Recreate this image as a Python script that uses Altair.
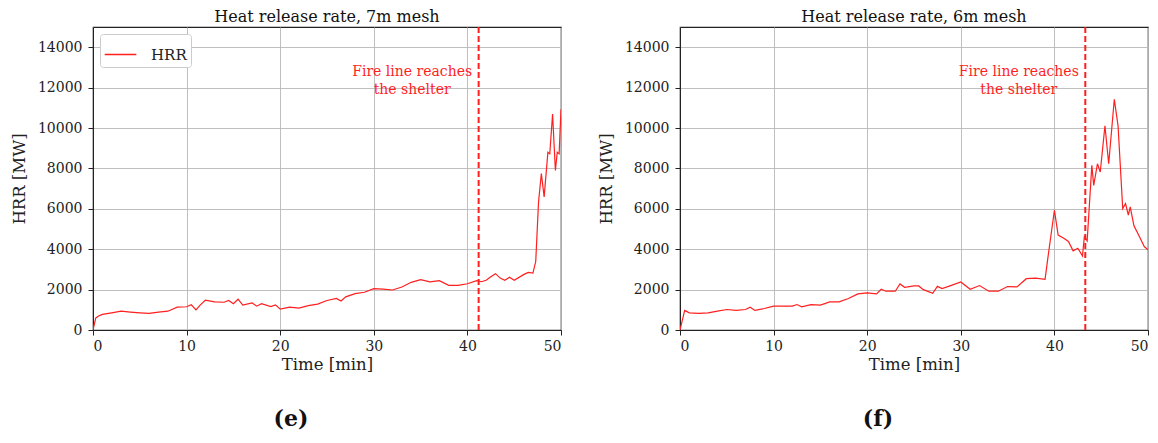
import altair as alt
import pandas as pd

# ---- data ----
t_e = [0, 0.3, 0.6, 1, 2, 3, 4, 5, 6, 7, 8, 9, 10, 10.5, 11, 11.5, 12, 13, 14, 14.5, 15, 15.5, 16, 17, 17.5,
       18, 19, 19.5, 20, 21, 22, 23, 24, 25, 26, 26.5, 27, 28, 29, 30, 31, 32, 33, 34, 35, 36, 37, 38, 39,
       40, 41, 41.5, 42, 42.5, 43, 43.5, 44, 44.5, 45, 46, 46.5, 47, 47.3, 47.6, 47.9, 48.2, 48.6, 48.8,
       49.1, 49.4, 49.6, 49.8, 50]
hrr_e = [0, 600, 690, 770, 850, 930, 885, 850, 820, 885, 930, 1130, 1150, 1250, 1000, 1260, 1475, 1390, 1375,
         1460, 1300, 1525, 1230, 1340, 1180, 1300, 1160, 1245, 1030, 1130, 1080, 1210, 1280, 1460, 1560, 1440,
         1640, 1800, 1870, 2050, 2020, 1980, 2130, 2360, 2490, 2380, 2440, 2210, 2210, 2290, 2440, 2390, 2460,
         2640, 2790, 2570, 2460, 2610, 2460, 2740, 2850, 2820, 3390, 6340, 7740, 6590, 8800, 8720, 10690, 7900,
         8800, 8720, 10930]

t_f = [0, 0.5, 1, 2, 3, 4, 5, 6, 7, 7.5, 8, 9, 10, 11, 12, 12.5, 13, 14, 15, 16, 17, 18, 19, 20, 21, 21.5, 22,
       23, 23.5, 24, 25, 25.5, 26, 27, 27.5, 28, 29, 30, 31, 32, 33, 34, 35, 36, 37, 38, 39, 39.3, 40, 40.4, 41,
       41.5, 42, 42.5, 43, 43.2, 43.5, 44, 44.2, 44.6, 44.9, 45.4, 45.8, 46.4, 46.8, 47.3, 47.6, 47.9, 48.1,
       48.5, 49, 49.6, 50]
hrr_f = [0, 970, 850, 820, 850, 930, 1015, 970, 1015, 1130, 970, 1065, 1180, 1180, 1180, 1260, 1150, 1260, 1230,
         1390, 1390, 1560, 1790, 1835, 1790, 2015, 1920, 1920, 2280, 2115, 2180, 2180, 2000, 1820, 2160, 2050,
         2210, 2380, 2015, 2200, 1920, 1920, 2150, 2130, 2540, 2570, 2510, 3560, 5930, 4700, 4540, 4380, 3920,
         4050, 3670, 4620, 4410, 8150, 7160, 8230, 7820, 10110, 8230, 11420, 10110, 6010, 6260, 5690, 6100,
         5160, 4700, 4130, 3970]

titles = ["Heat release rate, 7m mesh", "Heat release rate, 6m mesh"]
captions = ["(e)", "(f)"]
fire_line_t = [41.2, 43.3]
annot_lines = ["Fire line reaches", "the shelter"]
series_name = "HRR"

FONT = "DejaVu Serif"
RED = "#ff1f1f"
W, H = 468, 303


def panel(t, hrr, title, caption, tline):
    df = pd.DataFrame({"t": t, "hrr": hrr, "series": series_name})
    xs = alt.Scale(domain=[0, 50], nice=False)
    ys = alt.Scale(domain=[0, 15000], nice=False)
    line = alt.Chart(df).mark_line(strokeWidth=1.2, clip=True).encode(
        x=alt.X("t:Q", scale=xs, title="Time [min]",
                axis=alt.Axis(values=[0, 10, 20, 30, 40, 50], grid=True, format="d")),
        y=alt.Y("hrr:Q", scale=ys, title="HRR [MW]",
                axis=alt.Axis(values=list(range(0, 15000, 2000)), grid=True, format="d")),
        color=alt.Color("series:N", scale=alt.Scale(domain=[series_name], range=[RED]),
                        legend=alt.Legend(title=None, orient="top-left", symbolType="stroke",
                                          symbolSize=1000, symbolStrokeWidth=1.3,
                                          labelFont=FONT, labelFontSize=15, labelColor="#222",
                                          labelOffset=14,
                                          strokeColor="#cccccc", fillColor="white",
                                          padding=4, cornerRadius=3, offset=7)),
    )
    one = pd.DataFrame({"tline": [tline], "cap": [caption]})
    rule = alt.Chart(one).mark_rule(color=RED, strokeWidth=2, strokeDash=[6, 3]).encode(
        x=alt.X("tline:Q", scale=xs)
    )
    ann = pd.DataFrame({"txt": annot_lines, "tx": [tline - 7.1] * 2, "ty": [12750, 11900]})
    text = alt.Chart(ann).mark_text(color=RED, font=FONT, fontSize=14, align="center",
                                    baseline="middle").encode(
        x=alt.X("tx:Q", scale=xs), y=alt.Y("ty:Q", scale=ys), text="txt:N"
    )
    cap = alt.Chart(one).mark_text(font=FONT, fontSize=22, fontWeight="bold", color="#111",
                                   align="center", baseline="middle").encode(
        x=alt.value(198), y=alt.value(392), text="cap:N"
    )
    return alt.layer(line, rule, text, cap).properties(
        width=W, height=H,
        title=alt.TitleParams(title, font=FONT, fontSize=16, fontWeight="normal",
                              color="#111", offset=1),
    )


chart = alt.hconcat(
    panel(t_e, hrr_e, titles[0], captions[0], fire_line_t[0]),
    panel(t_f, hrr_f, titles[1], captions[1], fire_line_t[1]),
    spacing=34,
).configure(padding={"left": 2, "top": 0, "right": 0, "bottom": 0}).configure_view(
    stroke="#222", strokeWidth=1.2).configure_axis(
    labelFont=FONT, titleFont=FONT, labelFontSize=14, titleFontSize=16.5, labelColor="#222",
    titleColor="#222", titleFontWeight="normal", gridColor="#b8b8b8", gridWidth=0.9,
    domainColor="#222", tickColor="#222", tickSize=5,
).configure_axisY(titlePadding=10, labelPadding=6, minExtent=56, maxExtent=56).configure_axisX(
    titlePadding=3, labelPadding=4)

chart.save("out.html", embed_options={"renderer": "svg", "actions": False})
